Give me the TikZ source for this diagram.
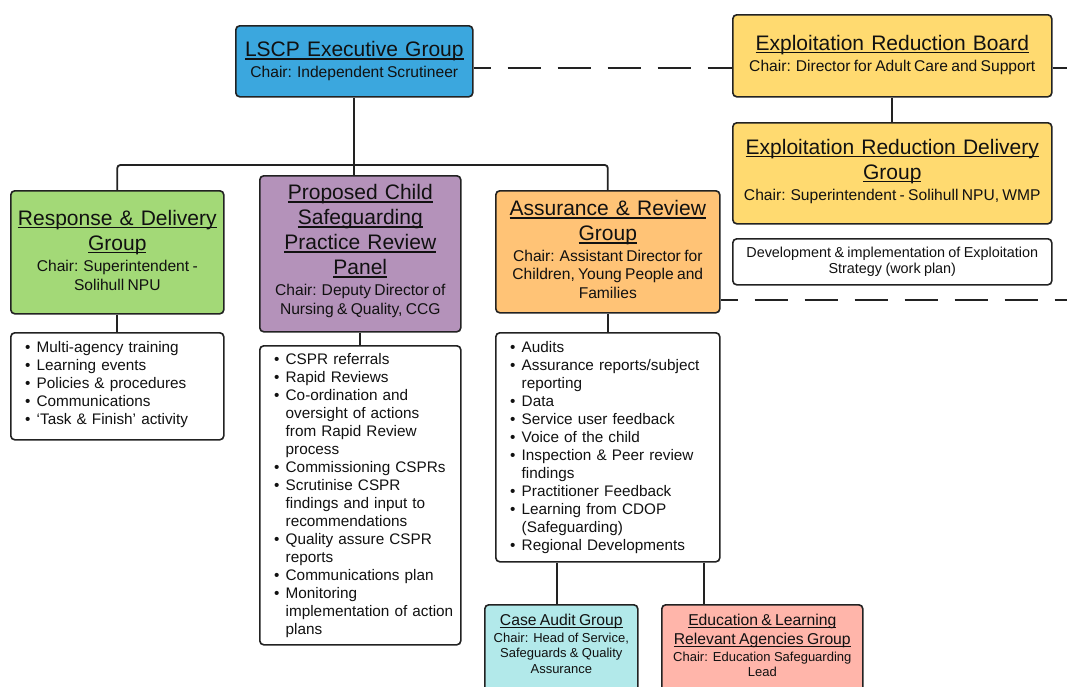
\documentclass[tikz,border=0pt]{standalone}
\usepackage{fontspec}
\setmainfont{Liberation Sans}
\usetikzlibrary{calc}
\definecolor{cexec}{RGB}{59,167,222}
\definecolor{cyel}{RGB}{255,218,112}
\definecolor{cgreen}{RGB}{163,217,119}
\definecolor{cpurp}{RGB}{180,146,186}
\definecolor{corange}{RGB}{255,195,118}
\definecolor{ccyan}{RGB}{178,233,234}
\definecolor{cpink}{RGB}{255,181,170}
\definecolor{cline}{RGB}{34,34,34}
\definecolor{ctext}{RGB}{17,17,17}
\newcommand\ttlf{\fontsize{21}{25}\selectfont\spaceskip=0.34em\relax}
\newcommand\sbtf{\fontsize{15.6}{19}\selectfont}
\newcommand\lstf{\fontsize{15.3}{18}\selectfont}
\newcommand\bttlf{\fontsize{15.7}{19}\selectfont}
\newcommand\bsbtf{\fontsize{13}{15.5}\selectfont}
\newcommand\myul[1]{\leavevmode\setbox0=\hbox{#1}\rlap{\rule[-3pt]{\wd0}{1.3pt}}\box0}
\newcommand\myuls[1]{\leavevmode\setbox0=\hbox{#1}\rlap{\rule[-2.5pt]{\wd0}{1pt}}\box0}
\newcommand\bitem[1]{\par\hangindent=13pt\hangafter=1\noindent\hbox to 13pt{\hbox to 8pt{\hss•\hss}\hss}#1}
\tikzset{
  box/.style={draw=cline, line width=1.6pt, rounded corners=4pt, anchor=north west, inner sep=0pt},
  lbl/.style={inner sep=0pt, text width=400pt, align=center, text=ctext},
  lstn/.style={inner sep=0pt, text width=300pt, align=left, anchor=north west, font=\lstf, text=ctext},
  conn/.style={draw=cline, line width=1.8pt},
  dsh/.style={draw=cline, line width=1.8pt, dash pattern=on 33pt off 17pt, dash phase=16pt}
}
\begin{document}
\begin{tikzpicture}[x=1pt,y=-1pt]
\useasboundingbox (0,0) rectangle (1067,686);
\clip (0,0) rectangle (1067,686);
\coordinate (redge) at (1067,0);
% boxes
\node[box, fill=cexec, minimum width=237pt, minimum height=71pt] (exec) at (235,25) {};
\node[box, fill=cyel, minimum width=319pt, minimum height=82pt] (erb) at (732,14) {};
\node[box, fill=cyel, minimum width=319pt, minimum height=101pt] (erdg) at (732,122) {};
\node[box, fill=white, minimum width=319pt, minimum height=46pt] (dev) at (732,238) {};
\node[box, fill=cgreen, minimum width=213pt, minimum height=123pt] (resp) at (10,190) {};
\node[box, fill=white, minimum width=213pt, minimum height=107pt] (resplist) at (10,332) {};
\node[box, fill=cpurp, minimum width=201pt, minimum height=156pt] (cspr) at (259,175) {};
\node[box, fill=white, minimum width=201pt, minimum height=299pt] (csprlist) at (259,345) {};
\node[box, fill=corange, minimum width=224pt, minimum height=122pt] (assur) at (495,190) {};
\node[box, fill=white, minimum width=224pt, minimum height=229pt] (assurlist) at (495,332) {};
\node[box, fill=ccyan, minimum width=153pt, minimum height=100pt] (case) at (484,604) {};
\node[box, fill=cpink, minimum width=201pt, minimum height=100pt] (edu) at (661,604) {};
% labels
\node[lbl] (exect) at (exec.center) {{\ttlf\myul{LSCP Executive Group}\par}\vskip2pt{\sbtf Chair: Independent Scrutineer\par}};
\node[lbl, yshift=1pt] (erbt) at (erb.center) {{\ttlf\myul{Exploitation Reduction Board}\par}\vskip2pt{\sbtf Chair: Director for Adult Care and Support\par}};
\node[lbl, yshift=2pt] (erdgt) at (erdg.center) {{\ttlf\myul{Exploitation Reduction Delivery}\par\myul{Group}\par}\vskip2pt{\sbtf Chair: Superintendent - Solihull NPU, WMP\par}};
\node[lbl] (devt) at (dev.center) {{\fontsize{14.4}{16.5}\selectfont Development \& implementation of Exploitation\par Strategy (work plan)\par}};
\node[lbl, yshift=2pt] (respt) at (resp.center) {{\ttlf\myul{Response \& Delivery}\par\myul{Group}\par}\vskip2pt{\sbtf Chair: Superintendent -\par Solihull NPU\par}};
\node[lbl, yshift=2.5pt] (csprt) at (cspr.center) {{\ttlf\myul{Proposed Child}\par\myul{Safeguarding}\par\myul{Practice Review}\par\myul{Panel}\par}\vskip2pt{\sbtf Chair: Deputy Director of\par Nursing \& Quality, CCG\par}};
\node[lbl, yshift=2.5pt] (assurt) at (assur.center) {{\ttlf\myul{Assurance \& Review}\par\myul{Group}\par}\vskip2pt{\fontsize{15.6}{18.5}\selectfont Chair: Assistant Director for\par Children, Young People and\par Families\par}};
\node[lbl, anchor=north] (caset) at ([yshift=-9.5pt]case.north) {{\bttlf\myuls{Case Audit Group}\par}\vskip1.5pt{\bsbtf Chair: Head of Service,\par Safeguards \& Quality\par Assurance\par}};
\node[lbl, anchor=north] (edut) at ([yshift=-9.5pt]edu.north) {{\bttlf\myuls{Education \& Learning}\par\myuls{Relevant Agencies Group}\par}\vskip1.5pt{\bsbtf Chair: Education Safeguarding\par Lead\par}};
% lists
\node[lstn] (resplistt) at ([xshift=13.5pt,yshift=-2.3pt]resplist.north west) {\bitem{Multi-agency training}\bitem{Learning events}\bitem{Policies \& procedures}\bitem{Communications}\bitem{‘Task \& Finish’ activity}\par};
\node[lstn] (csprlistt) at ([xshift=13.5pt,yshift=-0.8pt]csprlist.north west) {\bitem{CSPR referrals}\bitem{Rapid Reviews}\bitem{Co-ordination and\newline oversight of actions\newline from Rapid Review\newline process}\bitem{Commissioning CSPRs}\bitem{Scrutinise CSPR\newline findings and input to\newline recommendations}\bitem{Quality assure CSPR\newline reports}\bitem{Communications plan}\bitem{Monitoring\newline implementation of action\newline plans}\par};
\node[lstn] (assurlistt) at ([xshift=13.5pt,yshift=-2.3pt]assurlist.north west) {\bitem{Audits}\bitem{Assurance reports/subject\newline reporting}\bitem{Data}\bitem{Service user feedback}\bitem{Voice of the child}\bitem{Inspection \& Peer review\newline findings}\bitem{Practitioner Feedback}\bitem{Learning from CDOP\newline (Safeguarding)}\bitem{Regional Developments}\par};
% connectors
\coordinate (bus) at (0,165);
\draw[conn] (exec.south) -- (exec.south |- cspr.north);
\draw[conn, rounded corners=3pt] (resp.north) -- (resp.north |- bus) -- (assur.north |- bus) -- (assur.north);
\draw[conn] (resp.south) -- (resplist.north);
\draw[conn] (cspr.south) -- (csprlist.north);
\draw[conn] (assur.south) -- (assurlist.north);
\draw[conn] (erb.south) -- (erdg.north);
\draw[conn] ([xshift=62pt]assurlist.south west) -- ([xshift=62pt]assurlist.south west |- case.north);
\draw[conn] ([xshift=209pt]assurlist.south west) -- ([xshift=209pt]assurlist.south west |- edu.north);
\draw[dsh] ([yshift=-7pt]exec.east) -- ([yshift=-7pt]exec.east -| erb.west);
\draw[dsh] ([yshift=-7pt]exec.east -| erb.east) -- ([yshift=-7pt]exec.east -| redge);
\draw[dsh] ([yshift=-48pt]assur.east) -- ([yshift=-48pt]assur.east -| redge);
\end{tikzpicture}
\end{document}
